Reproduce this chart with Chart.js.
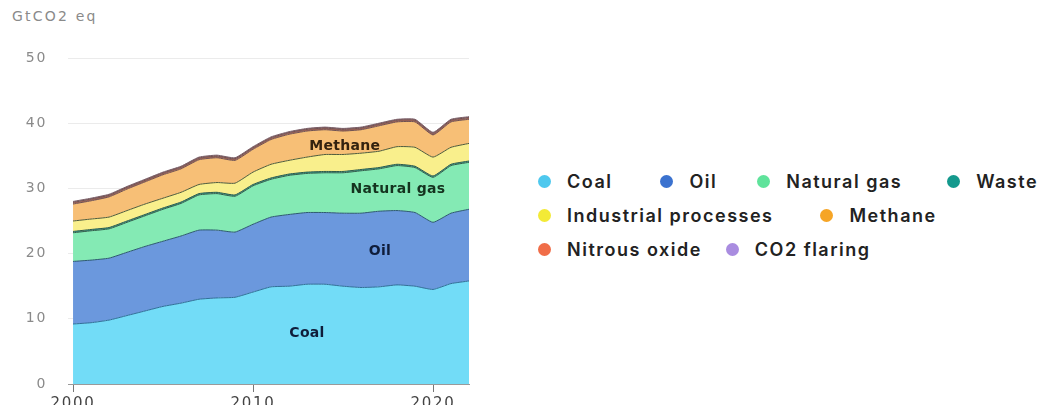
<!DOCTYPE html>
<html>
<head>
<meta charset="utf-8">
<script src="https://cdn.jsdelivr.net/npm/chart.js@4/dist/chart.umd.min.js"></script>
<style>
  html, body { margin: 0; padding: 0; background: #fff; overflow: hidden; }
  body { width: 1043px; height: 405px; position: relative; }
  #unit { position: absolute; left: 12px; top: 8px; font: 14px "DejaVu Sans", sans-serif; color: #8a8a8a; letter-spacing: 2.2px; }
  #wrap { position: absolute; left: 0; top: 0; width: 490px; height: 420px; }
  #legend { position: absolute; left: 538px; top: 164px; width: 510px; display: flex; flex-wrap: wrap; font: 600 18px Inter, sans-serif; color: #222; letter-spacing: 1.5px; }
  .item { display: flex; align-items: center; height: 34px; white-space: nowrap; }
  .dot { width: 13px; height: 13px; border-radius: 50%; margin-right: 16px; }
  .item:nth-child(1) { margin-right: 48px; }
  .item:nth-child(2) { margin-right: 40px; }
  .item:nth-child(3) { margin-right: 45px; }
  .item:nth-child(5) { margin-right: 47px; }
  .item:nth-child(7) { margin-right: 24px; }
</style>
</head>
<body>
<div id="unit">GtCO2 eq</div>
<div id="wrap"><canvas id="chart" width="490" height="420"></canvas></div>
<div id="legend"></div>
<script>
// data (GtCO2 eq)
const years = [2000, 2001, 2002, 2003, 2004, 2005, 2006, 2007, 2008, 2009, 2010, 2011,
               2012, 2013, 2014, 2015, 2016, 2017, 2018, 2019, 2020, 2021, 2022];
const coal       = [9.2, 9.4, 9.8, 10.5, 11.2, 11.9, 12.4, 13.0, 13.2, 13.3, 14.1, 14.9, 15.0, 15.3, 15.3, 15.0, 14.8, 14.9, 15.2, 15.0, 14.5, 15.4, 15.8];
const oil        = [9.6, 9.6, 9.5, 9.7, 9.9, 10.0, 10.3, 10.6, 10.4, 10.0, 10.4, 10.7, 11.0, 11.0, 11.0, 11.2, 11.4, 11.6, 11.4, 11.3, 10.3, 10.8, 11.0];
const gas        = [4.4, 4.5, 4.5, 4.6, 4.7, 4.9, 5.0, 5.4, 5.6, 5.5, 5.9, 5.8, 6.0, 6.0, 6.1, 6.2, 6.5, 6.5, 6.9, 6.9, 6.9, 7.3, 7.2];
const waste      = [0.2, 0.2, 0.2, 0.2, 0.2, 0.2, 0.2, 0.2, 0.2, 0.2, 0.2, 0.2, 0.2, 0.2, 0.2, 0.2, 0.2, 0.2, 0.2, 0.2, 0.2, 0.2, 0.2];
const industrial = [1.6, 1.6, 1.6, 1.6, 1.6, 1.5, 1.5, 1.4, 1.5, 1.8, 1.9, 2.1, 2.1, 2.3, 2.6, 2.6, 2.5, 2.5, 2.7, 2.9, 2.9, 2.6, 2.7];
const methane    = [2.6, 2.8, 3.1, 3.3, 3.4, 3.6, 3.6, 3.8, 3.8, 3.5, 3.5, 3.8, 4.0, 4.0, 3.8, 3.6, 3.6, 3.9, 3.8, 3.9, 3.4, 3.9, 3.7];
const nitrous    = [0.25, 0.25, 0.25, 0.25, 0.25, 0.25, 0.25, 0.25, 0.25, 0.25, 0.25, 0.25, 0.25, 0.25, 0.25, 0.25, 0.25, 0.25, 0.25, 0.25, 0.25, 0.25, 0.25];
const flaring    = [0.15, 0.15, 0.15, 0.15, 0.15, 0.15, 0.15, 0.15, 0.15, 0.15, 0.15, 0.15, 0.15, 0.15, 0.15, 0.15, 0.15, 0.15, 0.15, 0.15, 0.15, 0.15, 0.15];

const seriesNames = ["Coal", "Oil", "Natural gas", "Waste", "Industrial processes", "Methane", "Nitrous oxide", "CO2 flaring"];
const seriesData = [coal, oil, gas, waste, industrial, methane, nitrous, flaring];
const fillColors = ["#72dcf7", "#6b98dd", "#84eab4", "#3aa89a", "#f9ef8c", "#f7bf76", "#a8675a", "#8c6c7c"];
const lineColors = ["#2f6f98", "#2c5a6e", "#2f5a48", "#2f5a48", "#4e5a3a", "#6e5050", "#6e5050", "#7a5e66"];
const legendColors = ["#4ec8ee", "#3b72cf", "#5fe39b", "#14998d", "#f3ea36", "#f6a526", "#f06d48", "#a98ce0"];

const tickYears = [2000, 2010, 2020];
const yTicks = [0, 10, 20, 30, 40, 50];

// in-chart labels: text, year, value
const areaLabels = [
  ["Coal", 2013.0, 7.7],
  ["Oil", 2017.05, 20.4],
  ["Natural gas", 2018.05, 29.9],
  ["Methane", 2015.1, 36.4]
];
const areaLabelColors = ["#0f1d3a", "#0f1d3a", "#15331f", "#33220f"];

const datasets = seriesData.map((vals, i) => ({
  label: seriesNames[i],
  data: years.map((yr, j) => ({ x: yr, y: vals[j] })),
  backgroundColor: fillColors[i],
  borderColor: lineColors[i],
  borderWidth: 1,
  pointRadius: 0,
  tension: 0.15,
  fill: i === 0 ? "origin" : "-1"
}));

// wide spacing on axis text, like the original
const spacingPlugin = {
  id: "spacing",
  beforeDraw(chart) { chart.ctx.letterSpacing = "1.7px"; }
};

const labelPlugin = {
  id: "areaLabels",
  afterDatasetsDraw(chart) {
    const ctx = chart.ctx;
    const xs = chart.scales.x, ys = chart.scales.y;
    ctx.save();
    ctx.letterSpacing = "0.3px";
    ctx.font = "bold 14px 'DejaVu Sans', sans-serif";
    ctx.textAlign = "center";
    ctx.textBaseline = "middle";
    areaLabels.forEach(([txt, x, y], i) => {
      ctx.fillStyle = areaLabelColors[i];
      ctx.fillText(txt, xs.getPixelForValue(x), ys.getPixelForValue(y));
    });
    ctx.restore();
  }
};

new Chart(document.getElementById("chart"), {
  type: "line",
  data: { datasets },
  options: {
    responsive: false,
    animation: false,
    layout: { padding: { top: 58, right: 21, left: 0, bottom: 0 } },
    plugins: { legend: { display: false }, tooltip: { enabled: false } },
    scales: {
      x: {
        type: "linear",
        min: 1999.72,
        max: 2022,
        afterBuildTicks: (scale) => { scale.ticks = tickYears.map(v => ({ value: v })); },
        afterFit: (scale) => { scale.height = 36; },
        border: { display: true, color: "#9a9a9a", width: 1 },
        grid: { drawOnChartArea: false, drawTicks: true, tickLength: 8, color: "#777" },
        ticks: {
          padding: 3,
          maxRotation: 0,
          color: "#444",
          font: { family: "DejaVu Sans", size: 15 },
          callback: (v) => String(v)
        }
      },
      y: {
        stacked: true,
        min: 0,
        max: 50,
        afterBuildTicks: (scale) => { scale.ticks = yTicks.map(v => ({ value: v })); },
        afterFit: (scale) => { scale.width = 68; },
        border: { display: false },
        grid: { drawTicks: false, color: "#ebebeb" },
        ticks: {
          padding: 21,
          color: "#8a8a8a",
          font: { family: "DejaVu Sans", size: 14 }
        }
      }
    }
  },
  plugins: [spacingPlugin, labelPlugin]
});

// legend built from the same series lists
const legend = document.getElementById("legend");
seriesNames.forEach((name, i) => {
  const item = document.createElement("div");
  item.className = "item";
  const dot = document.createElement("span");
  dot.className = "dot";
  dot.style.background = legendColors[i];
  item.appendChild(dot);
  item.appendChild(document.createTextNode(name));
  legend.appendChild(item);
});
</script>
</body>
</html>
